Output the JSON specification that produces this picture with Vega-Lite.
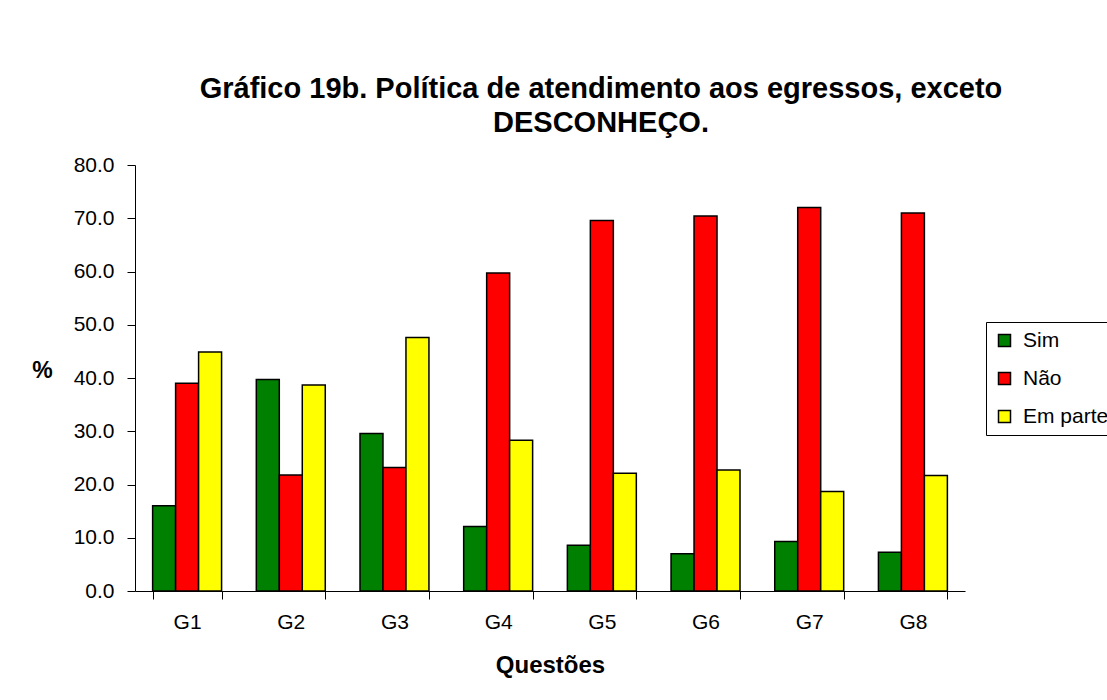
{
  "$schema": "https://vega.github.io/schema/vega-lite/v6.json",
  "autosize": {"type": "none"},
  "width": 830,
  "height": 426,
  "padding": {"left": 135, "top": 165, "right": 142, "bottom": 109},
  "background": "white",
  "title": {
    "text": ["Gráfico 19b. Política de atendimento aos egressos, exceto", "DESCONHEÇO."],
    "font": "Liberation Sans",
    "fontSize": 29,
    "fontWeight": "bold",
    "color": "black",
    "anchor": "middle",
    "dx": 51,
    "offset": 16,
    "lineHeight": 34
  },
  "data": {
    "values": [
      {"q": "G1", "s": "Sim", "v": 16.0},
      {"q": "G1", "s": "Não", "v": 39.0},
      {"q": "G1", "s": "Em parte", "v": 44.9},
      {"q": "G2", "s": "Sim", "v": 39.7},
      {"q": "G2", "s": "Não", "v": 21.8},
      {"q": "G2", "s": "Em parte", "v": 38.7},
      {"q": "G3", "s": "Sim", "v": 29.6},
      {"q": "G3", "s": "Não", "v": 23.2},
      {"q": "G3", "s": "Em parte", "v": 47.6},
      {"q": "G4", "s": "Sim", "v": 12.1},
      {"q": "G4", "s": "Não", "v": 59.7},
      {"q": "G4", "s": "Em parte", "v": 28.3},
      {"q": "G5", "s": "Sim", "v": 8.6},
      {"q": "G5", "s": "Não", "v": 69.6},
      {"q": "G5", "s": "Em parte", "v": 22.1},
      {"q": "G6", "s": "Sim", "v": 7.0},
      {"q": "G6", "s": "Não", "v": 70.4},
      {"q": "G6", "s": "Em parte", "v": 22.7},
      {"q": "G7", "s": "Sim", "v": 9.3},
      {"q": "G7", "s": "Não", "v": 72.0},
      {"q": "G7", "s": "Em parte", "v": 18.7},
      {"q": "G8", "s": "Sim", "v": 7.3},
      {"q": "G8", "s": "Não", "v": 71.0},
      {"q": "G8", "s": "Em parte", "v": 21.7}
    ]
  },
  "mark": {"type": "bar", "stroke": "black", "strokeWidth": 1.5, "opacity": 1},
  "encoding": {
    "x": {
      "field": "q",
      "type": "nominal",
      "scale": {"paddingInner": 0.335, "paddingOuter": 0.17},
      "axis": {
        "title": "Questões",
        "titleFont": "Liberation Sans",
        "titleFontSize": 24,
        "titleFontWeight": "bold",
        "titleColor": "black",
        "titleBaseline": "middle",
        "titleY": 74,
        "labelAngle": 0,
        "labelFont": "Liberation Sans",
        "labelFontSize": 21,
        "labelColor": "black",
        "labelPadding": 12,
        "tickBand": "extent",
        "tickSize": 8,
        "tickColor": "black",
        "domainColor": "black",
        "grid": false
      }
    },
    "xOffset": {"field": "s", "type": "nominal", "sort": ["Sim", "Não", "Em parte"]},
    "y": {
      "field": "v",
      "type": "quantitative",
      "scale": {"domain": [0, 80]},
      "axis": {
        "title": "%",
        "titleAngle": 0,
        "titleFont": "Liberation Sans",
        "titleFontSize": 23,
        "titleFontWeight": "bold",
        "titleColor": "black",
        "titleX": -93,
        "titleY": 205,
        "titleAlign": "center",
        "titleBaseline": "middle",
        "values": [0, 10, 20, 30, 40, 50, 60, 70, 80],
        "format": ".1f",
        "labelFont": "Liberation Sans",
        "labelFontSize": 21,
        "labelColor": "black",
        "labelPadding": 13,
        "tickSize": 8,
        "tickColor": "black",
        "domainColor": "black",
        "grid": false
      }
    },
    "color": {
      "field": "s",
      "type": "nominal",
      "sort": ["Sim", "Não", "Em parte"],
      "scale": {"domain": ["Sim", "Não", "Em parte"], "range": ["#008000", "#FF0000", "#FFFF00"]},
      "legend": {
        "title": null,
        "orient": "none",
        "legendX": 851,
        "legendY": 157,
        "strokeColor": "black",
        "fillColor": "white",
        "padding": 8,
        "symbolType": "square",
        "symbolSize": 144,
        "symbolStrokeColor": "black",
        "symbolStrokeWidth": 1.5,
        "symbolOpacity": 1,
        "labelFont": "Liberation Sans",
        "labelFontSize": 21,
        "labelColor": "black",
        "labelOffset": 8,
        "rowPadding": 16
      }
    }
  },
  "config": {"view": {"stroke": null}}
}
